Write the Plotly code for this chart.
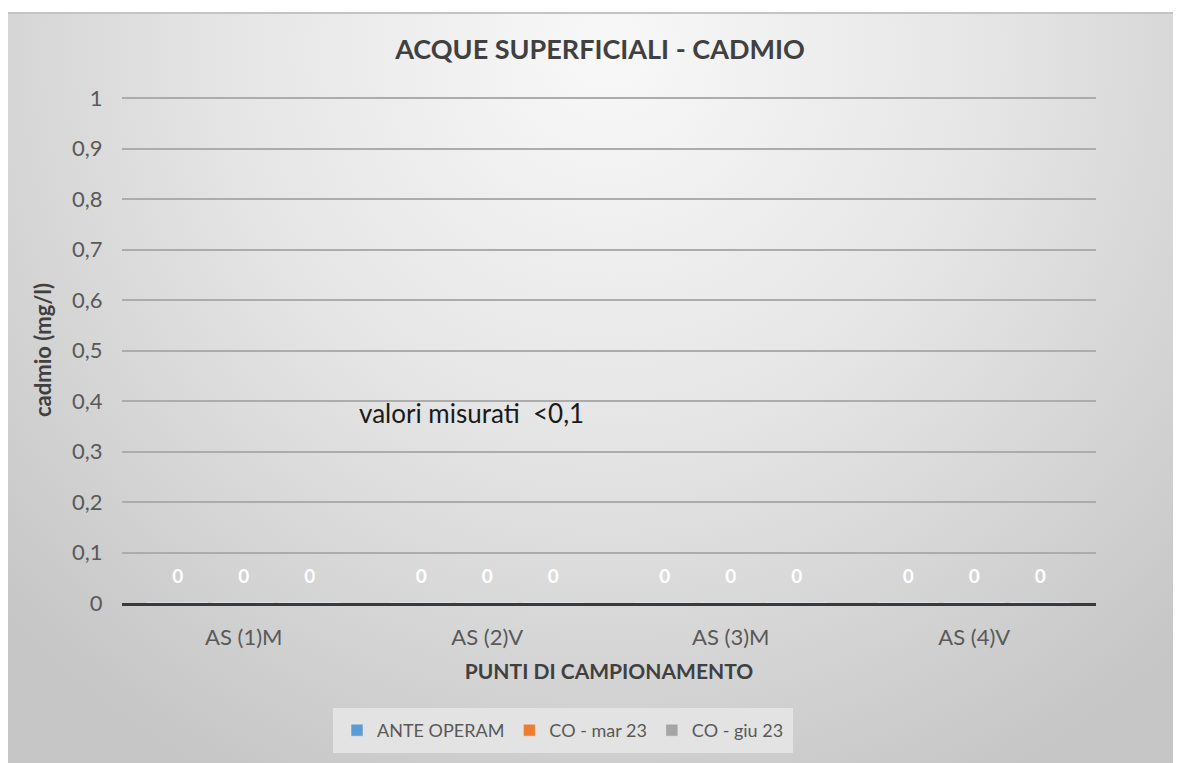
import base64
import plotly.graph_objects as go

# ---- data ----
categories = ["AS (1)M", "AS (2)V", "AS (3)M", "AS (4)V"]
series_names = ["ANTE OPERAM", "CO - mar 23", "CO - giu 23"]
ante_operam = [0, 0, 0, 0]
co_mar23 = [0, 0, 0, 0]
co_giu23 = [0, 0, 0, 0]
y_tickvals = [0, 0.1, 0.2, 0.3, 0.4, 0.5, 0.6, 0.7, 0.8, 0.9, 1]
y_ticktext = ["0", "0,1", "0,2", "0,3", "0,4", "0,5", "0,6", "0,7", "0,8", "0,9", "1"]
note_text = "valori misurati \u00a0&lt;0,1"

series_values = [ante_operam, co_mar23, co_giu23]
colors = ["#5b9bd5", "#ed7d31", "#a5a5a5"]
offsets = [-0.271, 0.0, 0.271]
FONT = "Lato"

OFF = 8  # page body margin
W, H = 1181 - OFF, 763 - OFF
# plot area in page px
PL, PR, PT, PB = 122, 1096, 97, 603
L, R, T, B = PL - OFF, PR - OFF, PT - OFF, PB - OFF
pw, ph = R - L, B - T

x_idx = list(range(len(categories)))

fig = go.Figure()
for name, vals, col, off in zip(series_names, series_values, colors, offsets):
    fig.add_trace(go.Bar(
        x=[i + off for i in x_idx], y=vals, name=name, width=0.25,
        marker=dict(color=col), hoverinfo="skip",
    ))
for name, vals, off in zip(series_names, series_values, offsets):
    fig.add_trace(go.Scatter(
        x=[i + off for i in x_idx], y=[v + 0.05 for v in vals],
        mode="text", text=[str(v) for v in vals],
        textfont=dict(family=FONT, size=19, color="white", weight="bold"),
        showlegend=False, hoverinfo="skip",
    ))


def px_x(p):  # page px -> paper
    return (p - OFF - L) / pw


def px_y(p):
    return (B - (p - OFF)) / ph


# gradient background (decoration), card from page (8,12) to bottom-right corner
cx0, cy0 = 8, 12
bw, bh = 1181 - cx0, 763 - cy0
svg = f'''<svg xmlns="http://www.w3.org/2000/svg" width="{bw}" height="{bh}" viewBox="0 0 {bw} {bh}">
<defs><radialGradient id="g" gradientUnits="userSpaceOnUse" cx="600" cy="40" r="820">
<stop offset="0" stop-color="#f8f8f8"/><stop offset="0.45" stop-color="#e6e6e6"/>
<stop offset="1" stop-color="#c6c6c6"/></radialGradient></defs>
<rect x="0" y="0" width="{bw}" height="{bh}" fill="url(#g)"/>
<rect x="0" y="0" width="{bw}" height="2" fill="#c4c4c4"/>
</svg>'''
src = "data:image/svg+xml;base64," + base64.b64encode(svg.encode()).decode()

fig.add_layout_image(dict(
    source=src, xref="paper", yref="paper",
    x=px_x(cx0), y=px_y(cy0), sizex=bw / pw, sizey=bh / ph,
    xanchor="left", yanchor="top", sizing="stretch", layer="below",
))

fig.update_layout(
    width=W, height=H,
    margin=dict(l=L, r=W - R, t=T, b=H - B, pad=0, autoexpand=False),
    paper_bgcolor="white", plot_bgcolor="rgba(0,0,0,0)",
    barmode="overlay", bargap=0,
    font=dict(family=FONT, color="#595959"),
    separators=",.",
    title=dict(
        text="<b>ACQUE SUPERFICIALI - CADMIO</b>",
        font=dict(family=FONT, size=27, color="#404040"),
        x=px_x(600), xref="paper", xanchor="center",
        y=1 - (50 - OFF) / H, yanchor="middle",
    ),
    xaxis=dict(
        range=[-0.5, len(categories) - 0.5],
        tickvals=x_idx, ticktext=categories,
        tickfont=dict(family=FONT, size=22, color="#595959"),
        ticks="outside", ticklen=13, tickcolor="rgba(0,0,0,0)",
        showgrid=False, zeroline=False,
        showline=True, linecolor="#3a3a3a", linewidth=3,
        title=dict(text="<b>PUNTI DI CAMPIONAMENTO</b>",
                   font=dict(family=FONT, size=21, color="#404040"), standoff=15),
        fixedrange=True,
    ),
    yaxis=dict(
        range=[0, 1.002], tickvals=y_tickvals, ticktext=y_ticktext,
        tickfont=dict(family=FONT, size=22, color="#595959"),
        ticks="outside", ticklen=14, tickcolor="rgba(0,0,0,0)",
        showgrid=True, gridcolor="#acacac", gridwidth=1.5,
        zeroline=False, showline=False,
        title=dict(text="<b>cadmio (mg/l)</b>",
                   font=dict(family=FONT, size=22, color="#404040"), standoff=14),
        fixedrange=True,
    ),
    legend=dict(
        orientation="h", x=px_x(563), xanchor="center", y=px_y(708), yanchor="top",
        bgcolor="#e3e3e3", bordercolor="#e3e3e3", borderwidth=4,
        font=dict(family=FONT, size=18, color="#595959"),
        itemwidth=30, traceorder="normal",
    ),
    annotations=[dict(
        text=note_text, xref="paper", yref="paper",
        x=px_x(357), xanchor="left", y=px_y(413), yanchor="middle",
        showarrow=False, font=dict(family=FONT, size=26, color="#1a1a1a"),
    )],
)

fig.write_html("out.html")
